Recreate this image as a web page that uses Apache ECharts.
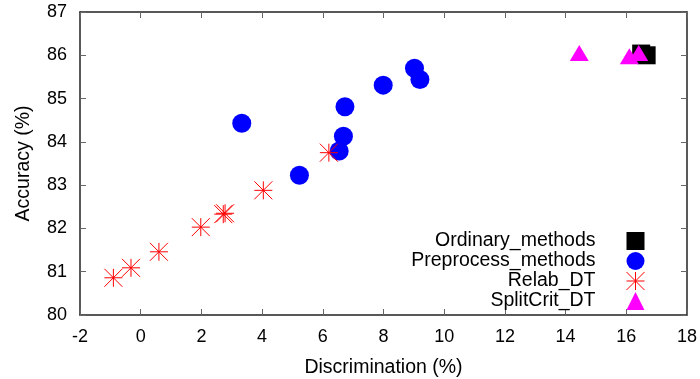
<!DOCTYPE html>
<html>
<head>
<meta charset="utf-8">
<script src="https://cdn.jsdelivr.net/npm/echarts@6/dist/echarts.min.js"></script>
<style>
  html, body { margin: 0; padding: 0; background: #fff; }
  #chart { width: 700px; height: 379px; }
</style>
</head>
<body>
<div id="chart"></div>
<script>
// Discrimination (%) vs. Accuracy (%) for each method family
const ordinaryMethods = [[16.49, 86.04], [16.67, 86.0]];
const preprocessMethods = [
  [3.33, 84.43], [5.23, 83.23], [6.54, 83.79], [6.68, 84.13],
  [6.73, 84.81], [7.99, 85.31], [9.02, 85.70], [9.20, 85.44]
];
const relabDT = [
  [-0.90, 80.86], [-0.32, 81.09], [0.60, 81.46], [1.98, 82.03],
  [2.72, 82.33], [2.78, 82.35], [4.04, 82.88], [6.20, 83.75]
];
const splitCritDT = [[14.45, 86.05], [16.10, 85.98], [16.41, 86.05]];

const xTicks = { min: -2, max: 18, step: 2 };
const yTicks = { min: 80, max: 87, step: 1 };

const FONT = 'Liberation Sans, Arial, sans-serif';
const starPath = 'path://M0,10L20,10M10,0L10,20M0,0L20,20M20,0L0,20';

const frameLine = { show: true, onZero: false, lineStyle: { color: '#222', width: 1.5 } };
const innerTick = { show: true, inside: true, length: 6, lineStyle: { color: '#666', width: 1 } };
const starStyle = { color: 'rgba(0,0,0,0)', borderColor: '#ff0000', borderWidth: 1, opacity: 1 };

const chart = echarts.init(document.getElementById('chart'), null, { renderer: 'canvas' });
chart.setOption({
  animation: false,
  backgroundColor: '#fff',
  grid: { left: 80, right: 13, top: 12, bottom: 64, containLabel: false, outerBoundsMode: 'none' },
  xAxis: [
    {
      type: 'value', min: xTicks.min, max: xTicks.max, interval: xTicks.step,
      name: 'Discrimination (%)', nameLocation: 'middle', nameGap: 43,
      nameTextStyle: { fontFamily: FONT, fontSize: 19.5, color: '#000' },
      axisLine: frameLine, axisTick: innerTick,
      axisLabel: { margin: 13, fontFamily: FONT, fontSize: 18, color: '#000' },
      splitLine: { show: false }
    },
    {
      type: 'value', position: 'top', min: xTicks.min, max: xTicks.max, interval: xTicks.step,
      axisLine: frameLine, axisTick: innerTick, axisLabel: { show: false },
      splitLine: { show: false }
    }
  ],
  yAxis: [
    {
      type: 'value', min: yTicks.min, max: yTicks.max, interval: yTicks.step,
      name: 'Accuracy (%)', nameLocation: 'middle', nameGap: 46,
      nameTextStyle: { fontFamily: FONT, fontSize: 19.5, color: '#000' },
      axisLine: frameLine, axisTick: innerTick,
      axisLabel: { margin: 13, fontFamily: FONT, fontSize: 18, color: '#000' },
      splitLine: { show: false }
    },
    {
      type: 'value', position: 'right', min: yTicks.min, max: yTicks.max, interval: yTicks.step,
      axisLine: frameLine, axisTick: innerTick, axisLabel: { show: false },
      splitLine: { show: false }
    }
  ],
  legend: {
    orient: 'vertical', align: 'right', right: 55, top: 231, padding: 0,
    itemWidth: 18, itemHeight: 18, itemGap: 0,
    textStyle: { fontFamily: FONT, fontSize: 19.5, lineHeight: 18, color: '#000', padding: [0, 26, 0, 0] },
    data: [
      { name: 'Ordinary_methods' },
      { name: 'Preprocess_methods' },
      { name: 'Relab_DT', itemStyle: starStyle },
      { name: 'SplitCrit_DT' }
    ]
  },
  series: [
    {
      name: 'Ordinary_methods', type: 'scatter', data: ordinaryMethods,
      symbol: 'rect', symbolSize: 18, itemStyle: { color: '#000', opacity: 1 }
    },
    {
      name: 'Preprocess_methods', type: 'scatter', data: preprocessMethods,
      symbol: 'circle', symbolSize: 19, itemStyle: { color: '#0000ff', opacity: 1 }
    },
    {
      name: 'Relab_DT', type: 'scatter', data: relabDT,
      symbol: starPath, symbolSize: 18, itemStyle: starStyle
    },
    {
      name: 'SplitCrit_DT', type: 'scatter', data: splitCritDT,
      symbol: 'triangle', symbolSize: [19, 16], itemStyle: { color: '#ff00ff', opacity: 1 }
    }
  ]
});
</script>
</body>
</html>
